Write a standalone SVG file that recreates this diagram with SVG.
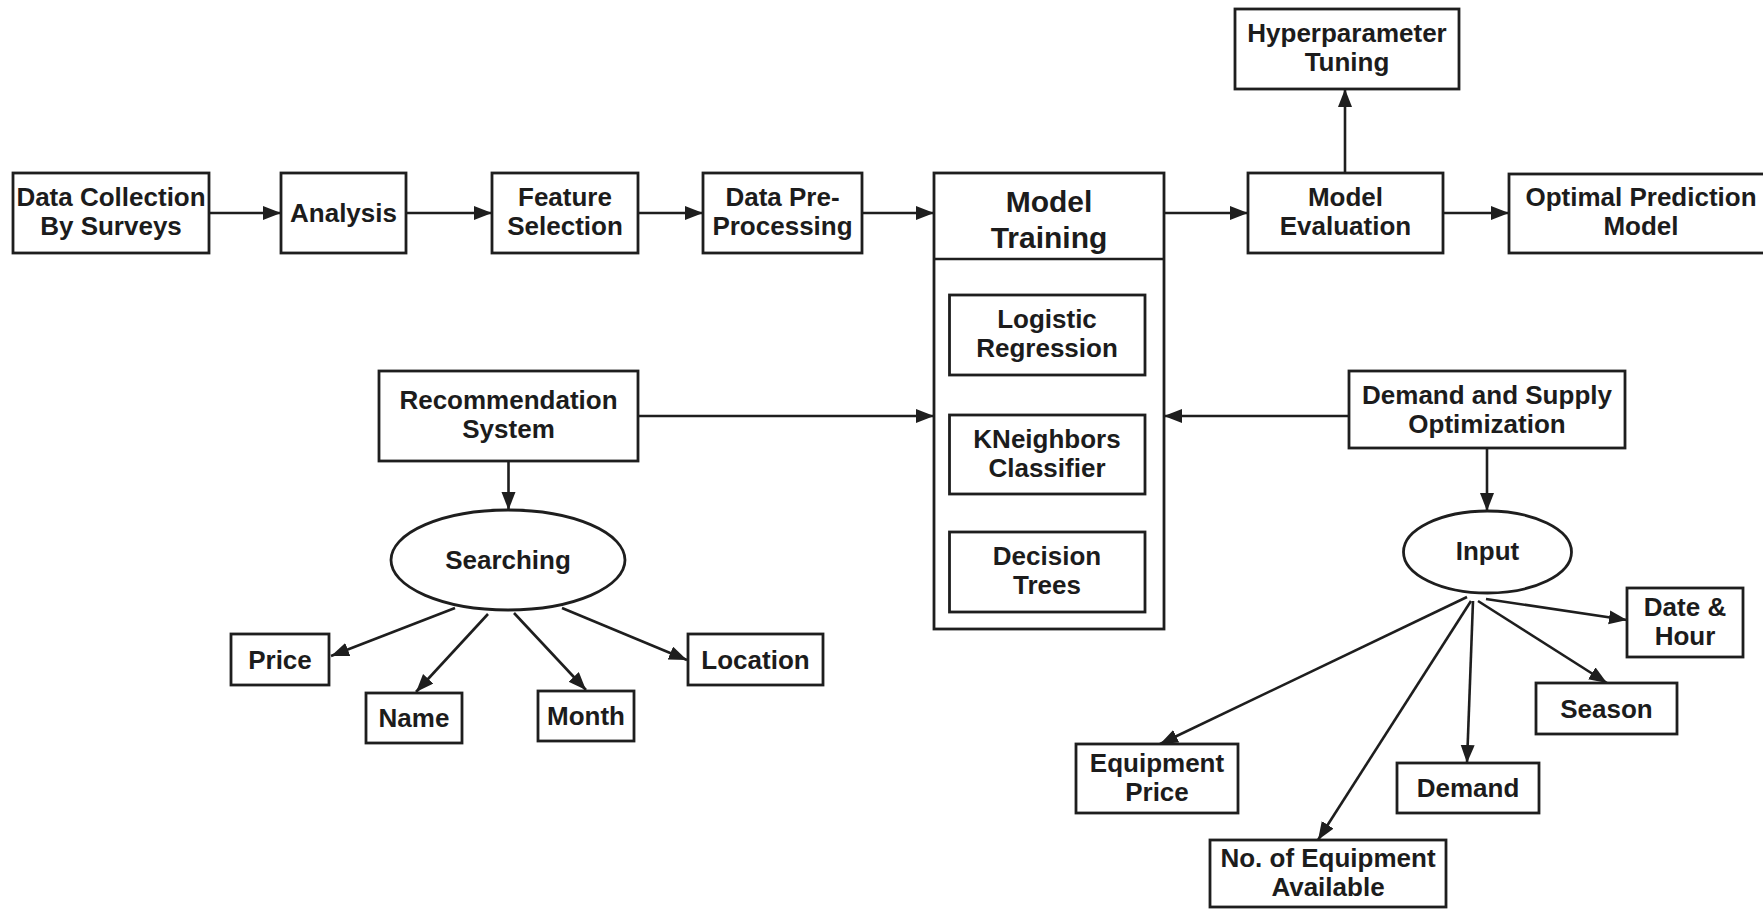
<svg xmlns="http://www.w3.org/2000/svg" width="1763" height="909" viewBox="0 0 1763 909">
  <style>
    .box { fill: #ffffff; stroke: #1e1e1e; stroke-width: 2.8; }
    .edge { fill: none; stroke: #1e1e1e; stroke-width: 2.6; }
    .lbl { font-family: "Liberation Sans", Arial, sans-serif; font-weight: bold; font-size: 26px; fill: #1c1c1c; text-anchor: middle; }
    .big { font-size: 30px; }
  </style>
  <defs>
    <marker id="arrow" markerUnits="userSpaceOnUse" markerWidth="19" markerHeight="15" refX="18" refY="7" orient="auto">
      <path d="M0,0 L18,7 L0,14 z" fill="#1e1e1e"/>
    </marker>
  </defs>
  <rect width="1763" height="909" fill="#ffffff"/>

  <!-- connectors -->
  <g id="connectors" class="edges">
    <line class="edge" x1="209" y1="213" x2="281" y2="213" marker-end="url(#arrow)"/>
    <line class="edge" x1="406" y1="213" x2="492" y2="213" marker-end="url(#arrow)"/>
    <line class="edge" x1="638" y1="213" x2="703" y2="213" marker-end="url(#arrow)"/>
    <line class="edge" x1="862" y1="213" x2="934" y2="213" marker-end="url(#arrow)"/>
    <line class="edge" x1="1164" y1="213" x2="1248" y2="213" marker-end="url(#arrow)"/>
    <line class="edge" x1="1443" y1="213" x2="1509" y2="213" marker-end="url(#arrow)"/>
    <line class="edge" x1="1345" y1="173" x2="1345" y2="89" marker-end="url(#arrow)"/>
    <line class="edge" x1="638" y1="416" x2="934" y2="416" marker-end="url(#arrow)"/>
    <line class="edge" x1="1349" y1="416" x2="1164" y2="416" marker-end="url(#arrow)"/>
    <line class="edge" x1="508.5" y1="461" x2="508.5" y2="510" marker-end="url(#arrow)"/>
    <line class="edge" x1="1487" y1="448" x2="1487" y2="511" marker-end="url(#arrow)"/>
    <line class="edge" x1="455" y1="608" x2="331" y2="656" marker-end="url(#arrow)"/>
    <line class="edge" x1="488" y1="614" x2="416" y2="692" marker-end="url(#arrow)"/>
    <line class="edge" x1="514" y1="613" x2="586" y2="690" marker-end="url(#arrow)"/>
    <line class="edge" x1="562" y1="608" x2="687" y2="660" marker-end="url(#arrow)"/>
    <line class="edge" x1="1486" y1="599" x2="1627" y2="620" marker-end="url(#arrow)"/>
    <line class="edge" x1="1478" y1="601" x2="1607" y2="683" marker-end="url(#arrow)"/>
    <line class="edge" x1="1473" y1="601" x2="1467" y2="763" marker-end="url(#arrow)"/>
    <line class="edge" x1="1467" y1="597" x2="1160" y2="744" marker-end="url(#arrow)"/>
    <line class="edge" x1="1471" y1="601" x2="1318" y2="840" marker-end="url(#arrow)"/>
  </g>

  <!-- main pipeline -->
  <g id="data-collection">
    <rect class="box" x="13" y="173" width="196" height="80"/>
    <text class="lbl" x="111" y="206">Data Collection</text>
    <text class="lbl" x="111" y="235">By Surveys</text>
  </g>
  <g id="analysis">
    <rect class="box" x="281" y="173" width="125" height="80"/>
    <text class="lbl" x="343.5" y="222">Analysis</text>
  </g>
  <g id="feature-selection">
    <rect class="box" x="492" y="173" width="146" height="80"/>
    <text class="lbl" x="565" y="206">Feature</text>
    <text class="lbl" x="565" y="235">Selection</text>
  </g>
  <g id="pre-processing">
    <rect class="box" x="703" y="173" width="159" height="80"/>
    <text class="lbl" x="782.5" y="206">Data Pre-</text>
    <text class="lbl" x="782.5" y="235">Processing</text>
  </g>
  <g id="model-training">
    <rect class="box" x="934" y="173" width="230" height="456"/>
    <line class="edge" x1="934" y1="259" x2="1164" y2="259"/>
    <text class="lbl big" x="1049" y="212">Model</text>
    <text class="lbl big" x="1049" y="248">Training</text>
  </g>
  <g id="logistic-regression">
    <rect class="box" x="949.5" y="295" width="195.5" height="80"/>
    <text class="lbl" x="1047" y="328">Logistic</text>
    <text class="lbl" x="1047" y="357">Regression</text>
  </g>
  <g id="kneighbors">
    <rect class="box" x="949.5" y="415" width="195.5" height="79"/>
    <text class="lbl" x="1047" y="447.5">KNeighbors</text>
    <text class="lbl" x="1047" y="476.5">Classifier</text>
  </g>
  <g id="decision-trees">
    <rect class="box" x="949.5" y="532" width="195.5" height="80"/>
    <text class="lbl" x="1047" y="565">Decision</text>
    <text class="lbl" x="1047" y="594">Trees</text>
  </g>
  <g id="model-evaluation">
    <rect class="box" x="1248" y="173" width="195" height="80"/>
    <text class="lbl" x="1345.5" y="206">Model</text>
    <text class="lbl" x="1345.5" y="235">Evaluation</text>
  </g>
  <g id="hyperparameter-tuning">
    <rect class="box" x="1235" y="9" width="224" height="80"/>
    <text class="lbl" x="1347" y="42">Hyperparameter</text>
    <text class="lbl" x="1347" y="71">Tuning</text>
  </g>
  <g id="optimal-model">
    <rect class="box" x="1509" y="174" width="264" height="79"/>
    <text class="lbl" x="1641" y="206">Optimal Prediction</text>
    <text class="lbl" x="1641" y="235">Model</text>
  </g>

  <!-- recommendation branch -->
  <g id="recommendation-system">
    <rect class="box" x="379" y="371" width="259" height="90"/>
    <text class="lbl" x="508.5" y="409">Recommendation</text>
    <text class="lbl" x="508.5" y="438">System</text>
  </g>
  <g id="searching">
    <ellipse class="box" cx="508" cy="560" rx="117" ry="50"/>
    <text class="lbl" x="508" y="569">Searching</text>
  </g>
  <g id="price">
    <rect class="box" x="231" y="634" width="98" height="51"/>
    <text class="lbl" x="280" y="669">Price</text>
  </g>
  <g id="name">
    <rect class="box" x="366" y="693" width="96" height="50"/>
    <text class="lbl" x="414" y="727">Name</text>
  </g>
  <g id="month">
    <rect class="box" x="538" y="691" width="96" height="50"/>
    <text class="lbl" x="586" y="725">Month</text>
  </g>
  <g id="location">
    <rect class="box" x="688" y="634" width="135" height="51"/>
    <text class="lbl" x="755.5" y="669">Location</text>
  </g>

  <!-- demand and supply branch -->
  <g id="demand-supply">
    <rect class="box" x="1349" y="371" width="276" height="77"/>
    <text class="lbl" x="1487" y="404">Demand and Supply</text>
    <text class="lbl" x="1487" y="433">Optimization</text>
  </g>
  <g id="input">
    <ellipse class="box" cx="1487.5" cy="552" rx="84" ry="41"/>
    <text class="lbl" x="1487.5" y="560">Input</text>
  </g>
  <g id="date-hour">
    <rect class="box" x="1627" y="588" width="116" height="69"/>
    <text class="lbl" x="1685" y="616">Date &amp;</text>
    <text class="lbl" x="1685" y="645">Hour</text>
  </g>
  <g id="season">
    <rect class="box" x="1536" y="683" width="141" height="51"/>
    <text class="lbl" x="1606.5" y="718">Season</text>
  </g>
  <g id="demand">
    <rect class="box" x="1397" y="763" width="142" height="50"/>
    <text class="lbl" x="1468" y="797">Demand</text>
  </g>
  <g id="equipment-price">
    <rect class="box" x="1076" y="744" width="162" height="69"/>
    <text class="lbl" x="1157" y="772">Equipment</text>
    <text class="lbl" x="1157" y="801">Price</text>
  </g>
  <g id="equipment-available">
    <rect class="box" x="1210" y="840" width="236" height="67"/>
    <text class="lbl" x="1328" y="867">No. of Equipment</text>
    <text class="lbl" x="1328" y="896">Available</text>
  </g>
</svg>
